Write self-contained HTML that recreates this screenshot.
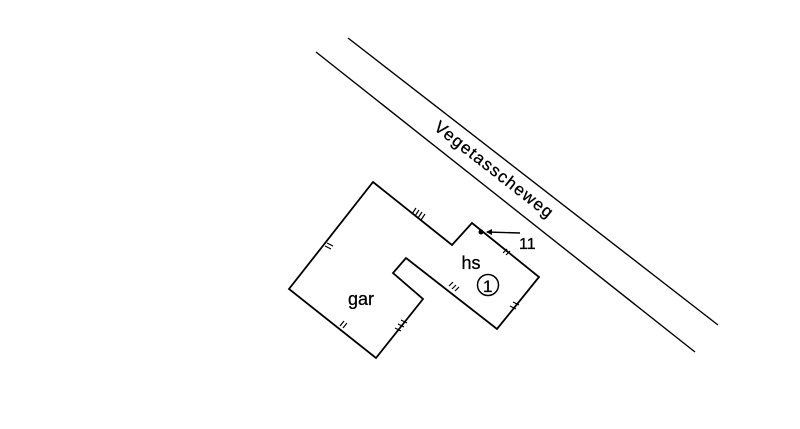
<!DOCTYPE html>
<html><head><style>body{margin:0;background:#fff}svg{display:block}</style></head><body>
<svg width="800" height="429" viewBox="0 0 800 429" xmlns="http://www.w3.org/2000/svg" font-family="Liberation Sans, sans-serif">
<g stroke="#000" stroke-width="1.4" fill="none">
<line x1="348" y1="38" x2="718" y2="325"/>
<line x1="316" y1="52" x2="695" y2="352"/>
<polygon points="373,182 452,245 472,223 539,277 497,329 406,258 393,273 423,299 376,358 289,289" stroke-width="1.8"/>
<line x1="520" y1="233" x2="487" y2="232"/>
<g stroke-width="1.2">
<path d="M412,214 l4,-6 M415,216 l4,-6 M418,218 l4,-6 M421,220 l4,-6"/>
<path d="M325,246 l6,3 M327,243 l6,3"/>
<path d="M340,326 l4,-5 M343,328 l4,-5"/>
<path d="M395,328 l6,3 M398,324 l6,3 M401,320 l6,3"/>
<path d="M449,286 l4,-4 M452,289 l4,-4 M455,291 l4,-4"/>
<path d="M510,306 l6,3 M513,302 l6,3"/>
<path d="M503,253 l4,-4 M506,255 l4,-4"/>
</g>
</g>
<circle cx="481" cy="232" r="2.5" fill="#000"/>
<path d="M486,232 l6,-3 v6 z" fill="#000"/>
<circle cx="488" cy="285" r="10.5" fill="none" stroke="#000" stroke-width="1.5"/>
<text x="483" y="292" font-size="17" stroke="#000" stroke-width="0.3">1</text>
<text x="471" y="269" font-size="18" text-anchor="middle" stroke="#000" stroke-width="0.3">hs</text>
<text x="361" y="305" font-size="18" text-anchor="middle" stroke="#000" stroke-width="0.3">gar</text>
<text x="519" y="249" font-size="16" stroke="#000" stroke-width="0.3">11</text>
<text x="0" y="0" font-size="17" letter-spacing="1.3" stroke="#000" stroke-width="0.3" transform="translate(433,129) rotate(38)">Vegetasscheweg</text>
</svg>
</body></html>
